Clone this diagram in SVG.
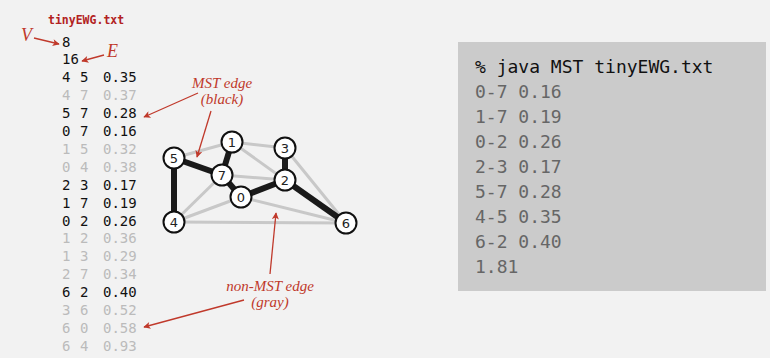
<svg xmlns="http://www.w3.org/2000/svg" width="770" height="358" viewBox="0 0 770 358">
<defs>
<marker id="ah" viewBox="0 0 10 10" refX="9" refY="5" markerWidth="9" markerHeight="7" markerUnits="userSpaceOnUse" orient="auto">
<path d="M0,0 L10,5 L0,10 L2.5,5 z" fill="#c0392b"/>
</marker>
<style>
.mono{font-family:"DejaVu Sans Mono","Liberation Mono",monospace;font-size:14px}
.blk{fill:#111}
.gry{fill:#bbb}
.lbl{font-family:"Liberation Serif",serif;font-style:italic;font-size:15px;fill:#c0392b;text-anchor:middle}
.big{font-family:"Liberation Serif",serif;font-style:italic;font-size:18px;fill:#c0392b}
.arr{stroke:#c0392b;stroke-width:1.3;fill:none;marker-end:url(#ah)}
.ge{stroke:#c8c8c8;stroke-width:3;fill:none}
.me{stroke:#1a1a1a;stroke-width:6;fill:none}
.nd circle{fill:#fff;stroke:#111;stroke-width:2}
.nd text{font-family:"DejaVu Sans","Liberation Sans",sans-serif;font-size:13px;fill:#222;text-anchor:middle}
.out{font-family:"DejaVu Sans Mono","Liberation Mono",monospace;font-size:18px;fill:#666}
</style>
</defs>
<rect width="770" height="358" fill="#f2f2f2"/>

<g id="input-file">
<text x="48" y="24" font-family="DejaVu Sans Mono,Liberation Mono,monospace" font-size="11.5" font-weight="bold" fill="#b22222">tinyEWG.txt</text>
<text class="mono blk" x="62" y="46.5">8</text>
<text class="mono blk" x="62" y="64.4">16</text>
<g class="mono">
<text class="blk" y="82.3"><tspan x="62">4</tspan><tspan x="80">5</tspan><tspan x="103">0.35</tspan></text>
<text class="gry" y="100.2"><tspan x="62">4</tspan><tspan x="80">7</tspan><tspan x="103">0.37</tspan></text>
<text class="blk" y="118.1"><tspan x="62">5</tspan><tspan x="80">7</tspan><tspan x="103">0.28</tspan></text>
<text class="blk" y="136"><tspan x="62">0</tspan><tspan x="80">7</tspan><tspan x="103">0.16</tspan></text>
<text class="gry" y="153.9"><tspan x="62">1</tspan><tspan x="80">5</tspan><tspan x="103">0.32</tspan></text>
<text class="gry" y="171.8"><tspan x="62">0</tspan><tspan x="80">4</tspan><tspan x="103">0.38</tspan></text>
<text class="blk" y="189.7"><tspan x="62">2</tspan><tspan x="80">3</tspan><tspan x="103">0.17</tspan></text>
<text class="blk" y="207.6"><tspan x="62">1</tspan><tspan x="80">7</tspan><tspan x="103">0.19</tspan></text>
<text class="blk" y="225.5"><tspan x="62">0</tspan><tspan x="80">2</tspan><tspan x="103">0.26</tspan></text>
<text class="gry" y="243.4"><tspan x="62">1</tspan><tspan x="80">2</tspan><tspan x="103">0.36</tspan></text>
<text class="gry" y="261.3"><tspan x="62">1</tspan><tspan x="80">3</tspan><tspan x="103">0.29</tspan></text>
<text class="gry" y="279.2"><tspan x="62">2</tspan><tspan x="80">7</tspan><tspan x="103">0.34</tspan></text>
<text class="blk" y="297.1"><tspan x="62">6</tspan><tspan x="80">2</tspan><tspan x="103">0.40</tspan></text>
<text class="gry" y="315"><tspan x="62">3</tspan><tspan x="80">6</tspan><tspan x="103">0.52</tspan></text>
<text class="gry" y="332.9"><tspan x="62">6</tspan><tspan x="80">0</tspan><tspan x="103">0.58</tspan></text>
<text class="gry" y="350.8"><tspan x="62">6</tspan><tspan x="80">4</tspan><tspan x="103">0.93</tspan></text>
</g>
</g>

<g id="connectors">
<line class="ge" x1="174" y1="222" x2="222" y2="175"/>
<line class="ge" x1="232" y1="142" x2="174" y2="158"/>
<line class="ge" x1="241" y1="197" x2="174" y2="222"/>
<line class="ge" x1="232" y1="142" x2="285" y2="180"/>
<line class="ge" x1="232" y1="142" x2="285" y2="148"/>
<line class="ge" x1="285" y1="180" x2="222" y2="175"/>
<line class="ge" x1="285" y1="148" x2="346" y2="223"/>
<line class="ge" x1="346" y1="223" x2="241" y2="197"/>
<line class="ge" x1="346" y1="223" x2="174" y2="222"/>
<line class="me" x1="174" y1="222" x2="174" y2="158"/>
<line class="me" x1="174" y1="158" x2="222" y2="175"/>
<line class="me" x1="241" y1="197" x2="222" y2="175"/>
<line class="me" x1="285" y1="180" x2="285" y2="148"/>
<line class="me" x1="232" y1="142" x2="222" y2="175"/>
<line class="me" x1="241" y1="197" x2="285" y2="180"/>
<line class="me" x1="346" y1="223" x2="285" y2="180"/>
</g>

<g id="node-0" class="nd"><circle cx="241" cy="197" r="10.5"/><text x="241" y="201.5">0</text></g>
<g id="node-1" class="nd"><circle cx="232" cy="142" r="10.5"/><text x="232" y="146.5">1</text></g>
<g id="node-2" class="nd"><circle cx="285" cy="180" r="10.5"/><text x="285" y="184.5">2</text></g>
<g id="node-3" class="nd"><circle cx="285" cy="148" r="10.5"/><text x="285" y="152.5">3</text></g>
<g id="node-4" class="nd"><circle cx="174" cy="222" r="10.5"/><text x="174" y="226.5">4</text></g>
<g id="node-5" class="nd"><circle cx="174" cy="158" r="10.5"/><text x="174" y="162.5">5</text></g>
<g id="node-6" class="nd"><circle cx="346" cy="223" r="10.5"/><text x="346" y="227.5">6</text></g>
<g id="node-7" class="nd"><circle cx="222" cy="175" r="10.5"/><text x="222" y="179.5">7</text></g>

<g id="annotations">
<text class="big" x="21" y="41">V</text>
<path class="arr" d="M34,38 L59,44"/>
<text class="big" x="107" y="57">E</text>
<path class="arr" d="M104,55 L82,61"/>
<text class="lbl" x="222" y="88">MST edge</text>
<text class="lbl" x="222" y="104">(black)</text>
<path class="arr" d="M198,93 L144,117"/>
<path class="arr" d="M211,111 L197,157"/>
<text class="lbl" x="270" y="291">non-MST edge</text>
<text class="lbl" x="270" y="307">(gray)</text>
<path class="arr" d="M270,274 L276,213"/>
<path class="arr" d="M244,300 L144,327"/>
</g>

<g id="output-box">
<rect x="458" y="42" width="308" height="249" fill="#cbcbcb"/>
<text class="out" x="475" y="73" style="fill:#111">% java MST tinyEWG.txt</text>
<text class="out" x="475" y="97.5">0-7 0.16</text>
<text class="out" x="475" y="122.5">1-7 0.19</text>
<text class="out" x="475" y="147.5">0-2 0.26</text>
<text class="out" x="475" y="172.5">2-3 0.17</text>
<text class="out" x="475" y="197.5">5-7 0.28</text>
<text class="out" x="475" y="222.5">4-5 0.35</text>
<text class="out" x="475" y="247.5">6-2 0.40</text>
<text class="out" x="475" y="272.5">1.81</text>
</g>
</svg>
